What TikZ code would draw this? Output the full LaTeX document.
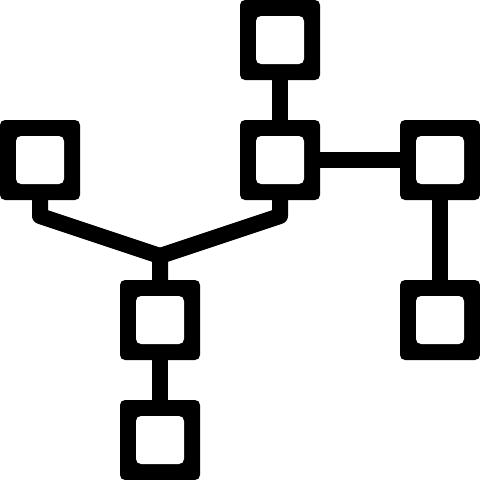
\documentclass[tikz,border=0pt]{standalone}
\begin{document}
\begin{tikzpicture}[x=1pt,y=-1pt,
  box/.style={rectangle,fill=black,minimum size=80pt,inner sep=0pt,rounded corners=5pt,
    path picture={\fill[white] ([shift={(-24pt,-24pt)}]path picture bounding box.center) rectangle ++(48pt,48pt);}},
  link/.style={line width=16pt,line join=round,black}]
\useasboundingbox (0,0) rectangle (480,480);
\node[box] (t) at (280,40) {};
\node[box] (m) at (280,160) {};
\node[box] (l) at (40,160) {};
\node[box] (r) at (440,160) {};
\node[box] (rb) at (440,320) {};
\node[box] (b1) at (160,320) {};
\node[box] (b2) at (160,440) {};
\coordinate (le) at (40,216);
\coordinate (me) at (280,216);
\coordinate (j) at (160,256);
\draw[link] (t.south) -- (m.north);
\draw[link] (m.east) -- (r.west);
\draw[link] (r.south) -- (rb.north);
\draw[link] (b1.south) -- (b2.north);
\draw[link] (l.south) -- (le) -- (j) -- (b1.north);
\draw[link] (m.south) -- (me) -- (j);
\end{tikzpicture}
\end{document}
